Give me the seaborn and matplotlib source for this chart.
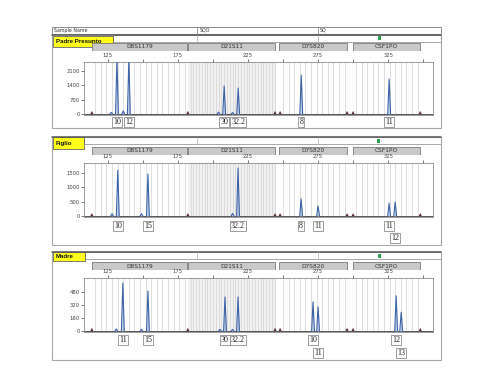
import matplotlib
matplotlib.use('Agg')
import matplotlib.pyplot as plt
from matplotlib.patches import Rectangle
from matplotlib.transforms import blended_transform_factory
import seaborn as sns
import pandas as pd
import numpy as np

# ---- data (bp, RFU) ----
SAMPLES = ['Padre Presunto', 'Figlio', 'Madre']

P1_ALLELE_BP = [131.5, 140.0, 208.0, 218.0, 263.0, 325.7]
P1_ALLELE_RFU = [2700, 2700, 1370, 1270, 1900, 1710]
P1_ALLELE_LABELS = ['10', '12', '30', '32.2', '8', '11']
P1_LABEL_ROW = [0, 0, 0, 0, 0, 0]
P1_STUTTER_BP = [127.5, 136.0, 204.0, 214.0]
P1_STUTTER_RFU = [80, 150, 90, 70]

P2_ALLELE_BP = [132.1, 153.6, 217.9, 262.9, 275.0, 325.7, 330.0]
P2_ALLELE_RFU = [1600, 1470, 1680, 600, 350, 450, 490]
P2_ALLELE_LABELS = ['10', '15', '32.2', '8', '11', '11', '12']
P2_LABEL_ROW = [0, 0, 0, 0, 0, 0, 1]
P2_STUTTER_BP = [128.0, 149.0, 214.0]
P2_STUTTER_RFU = [80, 80, 90]

P3_ALLELE_BP = [135.7, 153.6, 208.6, 217.9, 271.4, 275.0, 330.7, 334.3]
P3_ALLELE_RFU = [585, 490, 415, 415, 355, 295, 430, 230]
P3_ALLELE_LABELS = ['11', '15', '30', '32.2', '10', '11', '12', '13']
P3_LABEL_ROW = [0, 0, 0, 0, 0, 1, 0, 1]
P3_STUTTER_BP = [131.0, 149.0, 205.0, 214.0]
P3_STUTTER_RFU = [25, 20, 20, 20]

# size-standard (dark) peaks, same positions in every run
STD_BP = [113.6, 182.1, 244.3, 247.9, 295.7, 300.0, 347.9]
STD_RFU = [[150, 150, 150, 150, 150, 150, 150],
           [100, 100, 100, 100, 100, 100, 100],
           [40, 40, 40, 40, 40, 40, 40]]

Y_TICKS = [[0, 700, 1400, 2100], [0, 500, 1000, 1500], [0, 160, 320, 480]]
Y_LIMS = [(-50, 2545), (-35, 1853), (-12, 647)]
X_LIM = (108, 357)
X_TICKS = [125, 175, 225, 275, 325]

MARKERS = ['D8S1179', 'D21S11', 'D7S820', 'CSF1PO']
MARKER_START = [113.6, 182.1, 247.1, 300.0]
MARKER_END = [181.4, 244.3, 295.7, 347.9]
BIN_START = [116, 184, 250, 302]
BIN_END = [180, 244, 294, 346]
BIN_STEP = [4, 2, 4, 4]

PANELS = [
    (P1_ALLELE_BP, P1_ALLELE_RFU, P1_ALLELE_LABELS, P1_LABEL_ROW, P1_STUTTER_BP, P1_STUTTER_RFU),
    (P2_ALLELE_BP, P2_ALLELE_RFU, P2_ALLELE_LABELS, P2_LABEL_ROW, P2_STUTTER_BP, P2_STUTTER_RFU),
    (P3_ALLELE_BP, P3_ALLELE_RFU, P3_ALLELE_LABELS, P3_LABEL_ROW, P3_STUTTER_BP, P3_STUTTER_RFU),
]

# ---- page layout in pixels ----
W, H = 500, 376
LAYOUT = [
    dict(outer=(52, 34, 441, 128), yellow=(53, 36, 113, 47), strip=(113, 35, 441, 42),
         bar=(43, 51), plot=(84, 62, 433, 115), green=(377.5, 35.5), rows=(-0.13, -0.40)),
    dict(outer=(52, 137, 441, 245), yellow=(53, 137, 84, 149), strip=(84, 137, 441, 144),
         bar=(147, 155), plot=(84, 163, 433, 217), green=(376.5, 138.5), rows=(-0.17, -0.39)),
    dict(outer=(52, 252, 441, 360), yellow=(53, 252, 85, 261), strip=(85, 252, 441, 259),
         bar=(262, 270), plot=(84, 278, 433, 332), green=(377.5, 253.5), rows=(-0.15, -0.39)),
]

TRACE = '#3d63a8'
FILL = '#a9bfe3'
STD_COLOR = '#5a2f2f'
EDGE = '#8c8c8c'

sns.set_theme(style='white')
plt.rcParams['font.family'] = ['DejaVu Sans']


def px_box(x0, y0, x1, y1):
    return [x0 / W, 1 - y1 / H, (x1 - x0) / W, (y1 - y0) / H]


def peak_frame(pos, hgt, half_width):
    rows = []
    for i, (p, h) in enumerate(zip(pos, hgt)):
        rows += [(i, p - half_width, 0), (i, p, h), (i, p + half_width, 0)]
    return pd.DataFrame(rows, columns=['peak', 'bp', 'rfu'])


fig = plt.figure(figsize=(W / 100, H / 100), dpi=100)
fig.patch.set_facecolor('white')

deco = fig.add_axes([0, 0, 1, 1])
deco.set_xlim(0, W)
deco.set_ylim(H, 0)
deco.axis('off')

# header row only on the first panel
deco.add_patch(Rectangle((52, 27), 389, 7, fc='white', ec=EDGE, lw=0.7))
for xs in [197, 318]:
    deco.plot([xs, xs], [27, 34], color=EDGE, lw=0.6)
deco.text(54, 30.5, 'Sample Name', fontsize=3.4, va='center', color='#333333')
deco.text(200, 30.5, 'SQO', fontsize=3.4, va='center', color='#333333')
deco.text(320, 30.5, 'SQ', fontsize=3.4, va='center', color='#333333')

for k, (name, lay) in enumerate(zip(SAMPLES, LAYOUT)):
    ox0, oy0, ox1, oy1 = lay['outer']
    deco.add_patch(Rectangle((ox0, oy0), ox1 - ox0, oy1 - oy0, fc='white', ec='#a8a8a8', lw=0.8))
    sx0, sy0, sx1, sy1 = lay['strip']
    deco.add_patch(Rectangle((sx0, sy0), sx1 - sx0, sy1 - sy0, fc='white', ec='#9a9a9a', lw=0.6))
    deco.plot([ox0, ox1], [sy0, sy0], color='#555555', lw=1.1)
    for xs in [197, 318]:
        deco.plot([xs, xs], [sy0, sy1], color='#b0b0b0', lw=0.5)
    gx, gy = lay['green']
    deco.add_patch(Rectangle((gx, gy), 3.5, 4, fc='#2e9e4f', ec='none'))
    yx0, yy0, yx1, yy1 = lay['yellow']
    deco.add_patch(Rectangle((yx0, yy0), yx1 - yx0, yy1 - yy0, fc='#ffff1a', ec='#666666', lw=0.6))
    deco.text(yx0 + 3, (yy0 + yy1) / 2, name, fontsize=4.4, fontweight='bold',
              family='Liberation Sans', va='center', ha='left', color='#111111')

    px0, py0, px1, py1 = lay['plot']
    bar_y0, bar_y1 = lay['bar']

    # marker bar
    bax = fig.add_axes(px_box(px0, bar_y0, px1, bar_y1))
    bax.set_xlim(*X_LIM)
    bax.set_ylim(0, 1)
    bax.axis('off')
    for m, a, b in zip(MARKERS, MARKER_START, MARKER_END):
        bax.add_patch(Rectangle((a, 0), b - a, 1, fc='#c9c9c9', ec='#7a7a7a', lw=0.6))
        bax.text((a + b) / 2, 0.5, m, fontsize=4.2, ha='center', va='center', color='#333333')

    # trace panel
    ax = fig.add_axes(px_box(px0, py0, px1, py1))
    ax.set_facecolor('white')
    ax.axvspan(MARKER_START[1], MARKER_END[1], color='#f1f1f1', lw=0, zorder=0)
    for a, b, s in zip(BIN_START, BIN_END, BIN_STEP):
        ax.vlines(np.arange(a, b + 0.1, s), *Y_LIMS[k], color='#d2d2d2', lw=0.5, zorder=0)
    ax.axhline(0, color='#555555', lw=0.7, zorder=1)

    bp, rfu, labels, rows, st_bp, st_rfu = PANELS[k]
    peaks = peak_frame(list(bp) + list(st_bp), list(rfu) + list(st_rfu), 1.0)
    for _, g in peaks.groupby('peak'):
        ax.fill_between(g['bp'], g['rfu'], color=FILL, alpha=0.6, lw=0, zorder=2)
    sns.lineplot(data=peaks, x='bp', y='rfu', units='peak', estimator=None, sort=False,
                 color=TRACE, lw=0.8, ax=ax, zorder=3, legend=False)

    std = peak_frame(STD_BP, STD_RFU[k], 1.1)
    for _, g in std.groupby('peak'):
        ax.fill(g['bp'], g['rfu'], color=STD_COLOR, lw=0, zorder=3)

    ax.set_xlim(*X_LIM)
    ax.set_ylim(*Y_LIMS[k])
    ax.set_xlabel('')
    ax.set_ylabel('')
    ax.xaxis.tick_top()
    ax.set_xticks(X_TICKS)
    ax.set_xticks([150, 200, 250, 300, 350], minor=True)
    ax.set_yticks(Y_TICKS[k])
    ax.tick_params(axis='x', which='both', labelsize=3.8, length=2, width=0.5,
                   pad=1, colors='#444444', top=True, bottom=False)
    ax.tick_params(axis='y', labelsize=3.8, length=2, width=0.5, pad=1,
                   colors='#444444', left=True)
    for sp in ax.spines.values():
        sp.set_color(EDGE)
        sp.set_linewidth(0.6)

    trans = blended_transform_factory(ax.transData, ax.transAxes)
    for x, lab, r in zip(bp, labels, rows):
        ax.text(x, lay['rows'][r], lab, transform=trans, ha='center', va='center',
                fontsize=5.8, family='Liberation Serif', color='#222222', clip_on=False,
                bbox=dict(boxstyle='square,pad=0.15', fc='white', ec='#777777', lw=0.5))

plt.savefig('out.png', dpi=100, facecolor='white')
plt.close()
